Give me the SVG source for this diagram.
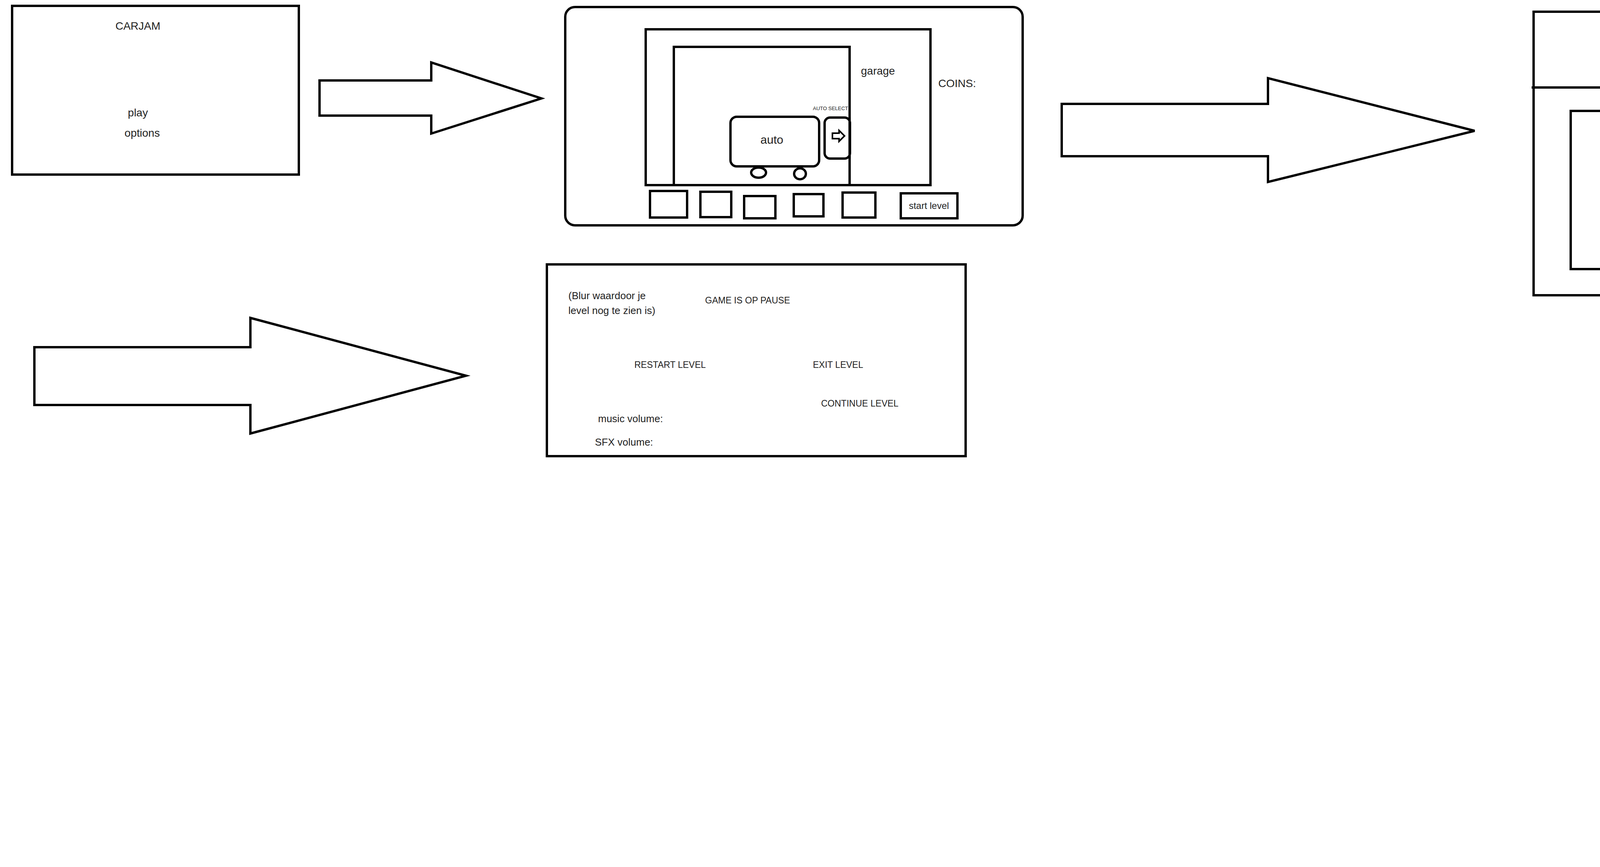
<svg xmlns="http://www.w3.org/2000/svg" width="6386" height="2220" viewBox="0 0 6386 2220">
<style>
.s{fill:none;stroke:#000;stroke-width:6}
.w{fill:#fff;stroke:#000;stroke-width:6}
text{font-family:"Liberation Sans",Arial,sans-serif;fill:#222;dominant-baseline:middle}
.c{text-anchor:middle}
</style>
<rect width="6386" height="2220" fill="#fff"/>
<g id="connectors">
<polygon class="w" points="818,206 1104,206 1104,160 1386,252 1104,342 1104,296 818,296"/>
<polygon class="w" points="2718,266 3246,266 3246,200 3775,335 3246,466 3246,400 2718,400"/>
<polygon class="w" points="88,889 641,889 641,814 1193,962 641,1110 641,1037 88,1037"/>
</g>
<g id="menu">
<rect class="s" x="31" y="15" width="734" height="432"/>
<text class="c" x="353" y="69" font-size="28">CARJAM</text>
<text class="c" x="353" y="291" font-size="28">play</text>
<text class="c" x="364" y="343" font-size="28">options</text>
</g>
<g id="garage">
<rect class="s" x="1447" y="18" width="1171" height="559" rx="25"/>
<rect class="s" x="1653" y="75" width="729" height="399"/>
<rect class="s" x="1725" y="120" width="450" height="354"/>
<text x="2204" y="184" font-size="28">garage</text>
<text x="2402" y="216" font-size="28">COINS:</text>
<text x="2081" y="279" font-size="13">AUTO SELECT</text>
<rect class="s" x="1870" y="299" width="227" height="127" rx="16"/>
<text class="c" x="1976" y="360" font-size="30">auto</text>
<ellipse class="s" cx="1942" cy="442" rx="19" ry="13"/>
<ellipse class="s" cx="2048" cy="445" rx="15" ry="14"/>
<rect class="s" x="2111" y="301" width="65" height="105" rx="14"/>
<polygon class="s" style="stroke-width:4" points="2131,341 2148,341 2148,334 2162,348 2148,362 2148,355 2131,355"/>
<rect class="s" x="1664" y="489" width="95" height="68"/>
<rect class="s" x="1793" y="491" width="79" height="65"/>
<rect class="s" x="1905" y="502" width="80" height="57"/>
<rect class="s" x="2032" y="497" width="76" height="57"/>
<rect class="s" x="2157" y="493" width="84" height="64"/>
<rect class="s" x="2306" y="495" width="145" height="64"/>
<text class="c" x="2378" y="529" font-size="24">start level</text>
</g>
<g id="level">
<rect class="s" x="3926" y="30" width="1116" height="726"/>
<line class="s" x1="3921" y1="224" x2="5047" y2="224"/>
<rect class="s" x="4252" y="77" width="369" height="89"/>
<text class="c" x="4436" y="128" font-size="26">AUTO</text>
<ellipse class="s" cx="4361" cy="193" rx="24" ry="26"/>
<ellipse class="s" cx="4522" cy="186" rx="22" ry="27"/>
<rect class="s" x="4021" y="284" width="804" height="405"/>
<text class="c" x="4407" y="474" font-size="24">SPEEL VELD</text>
<rect class="s" x="4901" y="282" width="113" height="198"/>
<text x="4915" y="338" font-size="24">LEVEL</text>
<text x="4915" y="372" font-size="24">INFO</text>
</g>
<g id="pause">
<rect class="s" x="1400" y="677" width="1072" height="491"/>
<text x="1455" y="759" font-size="26">(Blur waardoor je</text>
<text x="1455" y="797" font-size="26">level nog te zien is)</text>
<text x="1805" y="771" font-size="23">GAME IS OP PAUSE</text>
<text x="1624" y="936" font-size="23">RESTART LEVEL</text>
<text x="2081" y="936" font-size="23">EXIT LEVEL</text>
<text x="2102" y="1035" font-size="23">CONTINUE LEVEL</text>
<text x="1531" y="1074" font-size="26">music volume:</text>
<text x="1523" y="1134" font-size="26">SFX volume:</text>
</g>
</svg>
